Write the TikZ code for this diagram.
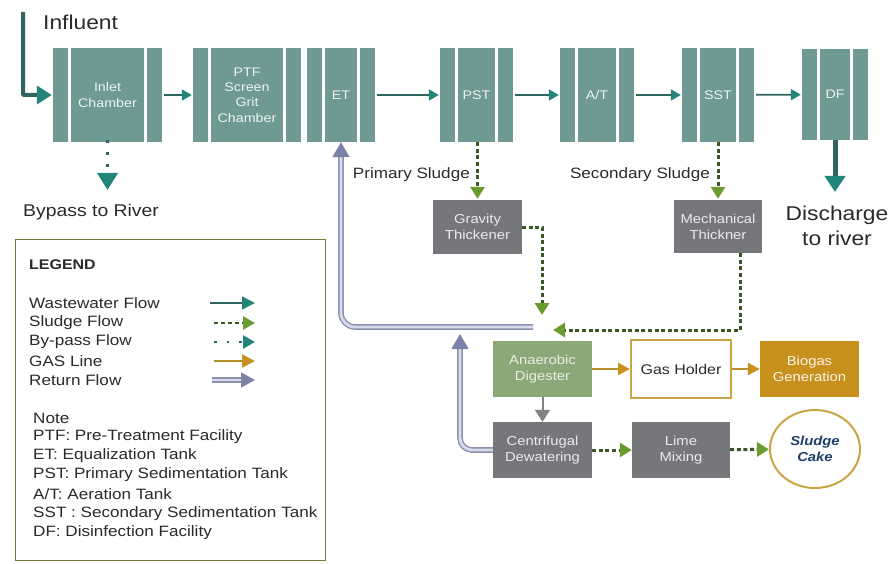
\documentclass[tikz,border=0pt]{standalone}
\usepackage{fontspec}
\setmainfont{Liberation Sans}[FakeStretch=1.14]
\usetikzlibrary{arrows.meta,shapes.geometric}
\newcommand{\fsz}[1]{\fontsize{#1pt}{\the\dimexpr #1pt*122/100\relax}\selectfont}
\definecolor{tankc}{HTML}{6F9993}
\definecolor{tanktext}{HTML}{EEF3F2}
\definecolor{wwline}{HTML}{2F6461}
\definecolor{wwhead}{HTML}{23857A}
\definecolor{boxgrey}{HTML}{76777A}
\definecolor{adgreen}{HTML}{8BA878}
\definecolor{goldc}{HTML}{C8911E}
\definecolor{gasc}{HTML}{B8902A}
\definecolor{ghborder}{HTML}{C9A544}
\definecolor{slline}{HTML}{3A5726}
\definecolor{slhead}{HTML}{6B9A2E}
\definecolor{retin}{HTML}{D8DBEA}
\definecolor{retout}{HTML}{8A90AE}
\definecolor{rethead}{HTML}{7B82A8}
\definecolor{legc}{HTML}{6C7A3A}
\definecolor{textc}{HTML}{2A2A2A}
\definecolor{cakec}{HTML}{1F3F6B}
\definecolor{arrgrey}{HTML}{808285}
\tikzset{
  tank/.style={fill=tankc, draw=none, minimum height=94pt, inner sep=0pt, text=tanktext, font=\fsz{12.5}, align=center},
  sepline/.style={draw=white, line width=3.2pt},
  gbox/.style={fill=boxgrey, draw=none, inner sep=0pt, text=white!92!black, font=\fsz{13}, align=center},
  lbl/.style={text=textc, inner sep=0pt},
  ww/.style={draw=wwline, line width=1.8pt, -{Triangle[length=10pt,width=11pt,color=wwhead]}},
  wwthick/.style={draw=wwline, line width=4pt, -{Triangle[length=15pt,width=18pt,color=wwhead]}},
  slf/.style={draw=slline, line width=3pt, dash pattern=on 4pt off 2.6pt, -{Triangle[length=12pt,width=14pt,color=slhead]}},
  bpf/.style={draw=wwline, line width=3.5pt, dash pattern=on 3pt off 9pt, -{Triangle[length=17pt,width=20pt,color=wwhead]}},
  gasf/.style={draw=gasc, line width=2pt, -{Triangle[length=12pt,width=12pt,color=goldc]}},
  retf/.style={draw=retout, line width=1.4pt, double=retin, double distance=2.8pt, -{Triangle[length=15pt,width=17pt,color=rethead]}},
}
\begin{document}
\begin{tikzpicture}[x=1pt,y=-1pt]
\useasboundingbox[fill=white] (0,0) rectangle (891,564);

% ---- top row tanks
\node[tank, minimum width=109pt] (inlet) at (107.5,95) {Inlet\\Chamber};
\node[tank, minimum width=108pt] (ptf) at (247,95) {PTF\\Screen\\Grit\\Chamber};
\node[tank, minimum width=68pt] (et) at (341,95) {ET};
\node[tank, minimum width=73pt] (pst) at (476.5,95) {PST};
\node[tank, minimum width=74pt] (at) at (597,95) {A/T};
\node[tank, minimum width=72pt] (sst) at (718,95) {SST};
\node[tank, minimum width=66pt, minimum height=91pt] (df) at (835,94.5) {DF};
\foreach \n in {inlet,ptf,et,pst,at,sst,df}{
  \draw[sepline] ([xshift=16.5pt]\n.north west) -- ([xshift=16.5pt]\n.south west);
  \draw[sepline] ([xshift=-16.5pt]\n.north east) -- ([xshift=-16.5pt]\n.south east);
}

% ---- wastewater flow
\draw[ww, shorten <=2pt, shorten >=1pt] (inlet) -- (ptf);
\draw[ww, shorten <=2pt, shorten >=1pt] (et) -- (pst);
\draw[ww, shorten <=2pt, shorten >=1pt] (pst) -- (at);
\draw[ww, shorten <=2pt, shorten >=1pt] (at) -- (sst);
\draw[ww, shorten <=2pt, shorten >=1pt] (sst) -- (df);

\coordinate (infl) at (23,12);
\draw[wwthick, rounded corners=1pt] (infl) |- ([xshift=-1pt]inlet.west);
\node[lbl, anchor=west, font=\fsz{20}] (tinfl) at (43,22) {Influent};

\coordinate (bypass) at (107.5,190);
\draw[bpf] ([yshift=2pt]inlet.south) -- (bypass);
\node[lbl, anchor=west, font=\fsz{17}] (tbyp) at (23,212) {Bypass to River};

\coordinate (dis) at (835,192);
\draw[wwthick, line width=5pt, -{Triangle[length=16pt,width=20pt,color=wwhead]}] (df.south) -- (dis);
\node[lbl, align=center, font=\fsz{20}] (tdis) at (837,226) {Discharge\\to river};

% ---- thickeners
\node[gbox, minimum width=89pt, minimum height=54pt] (gt) at (477.5,227) {Gravity\\Thickener};
\node[gbox, minimum width=88pt, minimum height=53pt] (mt) at (718,226.5) {Mechanical\\Thickner};
\node[lbl, anchor=east, font=\fsz{15}] (tps) at (470,175) {Primary Sludge};
\node[lbl, anchor=east, font=\fsz{15}] (tss) at (710,175) {Secondary Sludge};

\draw[slf, shorten >=1pt] ([xshift=1pt]pst.south) -- ([xshift=0pt]gt.north);
\draw[slf, shorten >=1pt] (sst.south) -- (mt.north);

\coordinate (sj) at (542,315);
\draw[slf] (gt.east) -| (sj);
\coordinate (mj) at (553,330);
\draw[slf] ([xshift=-22pt]mt.south east) |- (mj);

% ---- digestion
\node[fill=adgreen, inner sep=0pt, minimum width=99pt, minimum height=56pt, text=white!92!black, font=\fsz{13}, align=center] (ad) at (542.5,369) {Anaerobic\\Digester};
\node[fill=white, draw=ghborder, line width=2pt, inner sep=0pt, minimum width=100pt, minimum height=58pt, text=textc, font=\fsz{14}] (gh) at (681,369) {Gas Holder};
\node[fill=goldc, inner sep=0pt, minimum width=99pt, minimum height=56pt, text=white!90!goldc, font=\fsz{13}, align=center] (bg) at (809.5,369) {Biogas\\Generation};
\node[gbox, minimum width=99pt, minimum height=56pt] (cd) at (542.5,450) {Centrifugal\\Dewatering};
\node[gbox, minimum width=98pt, minimum height=56pt] (lm) at (681,450) {Lime\\Mixing};
\node[ellipse, draw=ghborder, line width=2pt, fill=white, inner sep=0pt, minimum width=90pt, minimum height=78pt, text=cakec, font=\fsz{13}\bfseries\itshape, align=center] (sc) at (815,449) {Sludge\\Cake};

\draw[gasf] (ad) -- (gh);
\draw[gasf] (gh) -- (bg);
\draw[draw=arrgrey, line width=2pt, -{Triangle[length=12pt,width=15pt,color=arrgrey]}] (ad) -- (cd);
\draw[slf] (cd) -- (lm);
\draw[slf] (lm) -- (sc);

% ---- return flows
\coordinate (rj) at (533,327);
\draw[retf, rounded corners=14pt] (rj) -| (et.south);
\coordinate (rj2) at (460,334);
\draw[retf, rounded corners=12pt] (cd.west) -| (rj2);

% ---- legend
\node[draw=legc, line width=1.3pt, fill=white, minimum width=310pt, minimum height=321pt, anchor=north west, inner sep=0pt] (legend) at (15,239) {};
\node[lbl, anchor=west, font=\fsz{14}\bfseries] (tleg) at (29,265) {LEGEND};
\node[lbl, anchor=west, font=\fsz{15}] (l1) at (29,303) {Wastewater Flow};
\node[lbl, anchor=west, font=\fsz{15}] (l2) at (29,322.5) {Sludge Flow};
\node[lbl, anchor=west, font=\fsz{15}] (l3) at (29,342) {By-pass Flow};
\node[lbl, anchor=west, font=\fsz{15}] (l4) at (29,361) {GAS Line};
\node[lbl, anchor=west, font=\fsz{15}] (l5) at (29,380) {Return Flow};
\coordinate (a1s) at (210,303); \coordinate (a1e) at (255,303);
\coordinate (a2s) at (214,323); \coordinate (a2e) at (255,323);
\coordinate (a3s) at (214,342); \coordinate (a3e) at (255,342);
\coordinate (a4s) at (214,361); \coordinate (a4e) at (255,361);
\coordinate (a5s) at (212,380); \coordinate (a5e) at (255,380);
\draw[draw=wwline, line width=1.8pt, -{Triangle[length=13pt,width=13pt,color=wwhead]}] (a1s) -- (a1e);
\draw[draw=slline, line width=2.4pt, dash pattern=on 4pt off 3pt, -{Triangle[length=12pt,width=13pt,color=slhead]}] (a2s) -- (a2e);
\draw[draw=wwline, line width=2.5pt, dash pattern=on 2.5pt off 10pt, -{Triangle[length=12pt,width=13pt,color=wwhead]}] (a3s) -- (a3e);
\draw[gasf, -{Triangle[length=13pt,width=13pt,color=goldc]}] (a4s) -- (a4e);
\draw[retf, -{Triangle[length=14pt,width=15pt,color=rethead]}] (a5s) -- (a5e);

\node[lbl, anchor=west, font=\fsz{15}] (n0) at (33,418) {Note};
\node[lbl, anchor=west, font=\fsz{15}] (n1) at (33,437) {PTF: Pre-Treatment Facility};
\node[lbl, anchor=west, font=\fsz{15}] (n2) at (33,456) {ET: Equalization Tank};
\node[lbl, anchor=west, font=\fsz{15}] (n3) at (33,475) {PST: Primary Sedimentation Tank};
\node[lbl, anchor=west, font=\fsz{15}] (n4) at (33,494.5) {A/T: Aeration Tank};
\node[lbl, anchor=west, font=\fsz{15}] (n5) at (33,514) {SST : Secondary Sedimentation Tank};
\node[lbl, anchor=west, font=\fsz{15}] (n6) at (33,533) {DF: Disinfection Facility};
\end{tikzpicture}
\end{document}
